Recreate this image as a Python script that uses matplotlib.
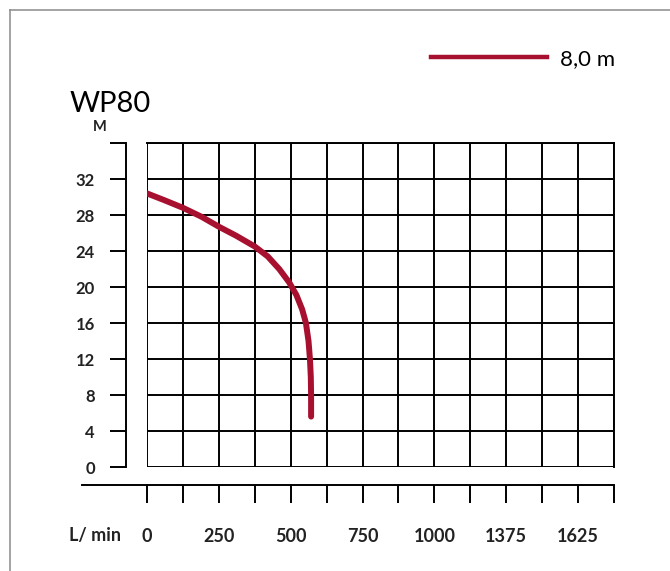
import matplotlib.pyplot as plt
import numpy as np
from matplotlib.lines import Line2D
from matplotlib.ticker import FixedLocator

plt.rcParams['font.family'] = ['Lato', 'DejaVu Sans']

# pompcurve WP80, opvoerhoogte (m) tegen debiet (L/min)
flow = [0, 60, 125, 190, 250, 310, 375, 420, 460, 495, 520, 540, 553, 562, 567, 570, 571, 571]
head = [30.4, 29.65, 28.8, 27.8, 26.7, 25.7, 24.5, 23.4, 22.0, 20.5, 19.1, 17.5, 16.0, 14.0, 12.0, 10.0, 8.0, 5.6]

x_label_pos = [0, 250, 500, 750, 1000, 1250, 1500]
x_labels = ["0", "250", "500", "750", "1000", "1375", "1625"]
y_ticks = [0, 4, 8, 12, 16, 20, 24, 28, 32, 36]
y_labels = ["0", "4", "8", "12", "16", "20", "24", "28", "32", ""]

curve_color = '#a8102f'
W, H = 670, 571

fig = plt.figure(figsize=(W / 100, H / 100), dpi=100)
ax = fig.add_axes([147 / W, 104 / H, 467 / W, 324 / H])

ax.plot(flow, head, color=curve_color, lw=4.3, solid_capstyle='round', solid_joinstyle='round', zorder=3)
ax.set_xlim(0, 1625)
ax.set_ylim(0, 36)

# raster
x_ticks = np.arange(0, 1626, 125)
ax.set_xticks(x_ticks)
ax.set_xticklabels([x_labels[x_label_pos.index(p)] if p in x_label_pos else "" for p in x_ticks])
ax.xaxis.set_minor_locator(FixedLocator([1625]))
ax.set_yticks(y_ticks)
ax.set_yticklabels(y_labels)
ax.grid(True, which='major', color='black', lw=1.4)

for s in ax.spines.values():
    s.set_linewidth(1.4)
    s.set_color('black')
ax.spines['bottom'].set_position(('outward', 13))
ax.spines['bottom'].set_bounds(-226, 1625)
ax.spines['left'].set_position(('outward', 15.3))

ax.tick_params(axis='x', which='major', direction='out', length=13, width=1.4, pad=18, labelsize=13, labelcolor='#222222')
ax.tick_params(axis='x', which='minor', direction='out', length=20, width=1.4)
ax.tick_params(axis='y', direction='out', length=11.3, width=1.4, pad=11, labelsize=12, labelcolor='#222222')
for lbl in ax.get_xticklabels() + ax.get_yticklabels():
    lbl.set_fontweight('bold')

fig.text(95 / W, 1 - 535 / H, "L/ min", ha='center', va='center', fontsize=13, weight='bold', color='#222222')
fig.text(100 / W, 1 - 127 / H, "M", ha='center', va='center', fontsize=10.5, weight='bold', color='#222222')
fig.text(70 / W, 1 - 104 / H, "WP80", ha='left', va='center', fontsize=21, color='black')

handle = Line2D([], [], color=curve_color, lw=3.2, label='8,0 m')
fig.legend(handles=[handle], loc='center left', bbox_to_anchor=(431 / W, 1 - 59 / H), frameon=False,
           fontsize=16, handlelength=5.2, handletextpad=0.6, borderpad=0, borderaxespad=0)

# grijze kader links en boven
fig.add_artist(Line2D([10 / W, 10 / W], [0, 1 - 10 / H], color='#8a8a8a', lw=1.1))
fig.add_artist(Line2D([10 / W, 1], [1 - 10 / H, 1 - 10 / H], color='#8a8a8a', lw=1.1))

fig.savefig('out.png', dpi=100)
